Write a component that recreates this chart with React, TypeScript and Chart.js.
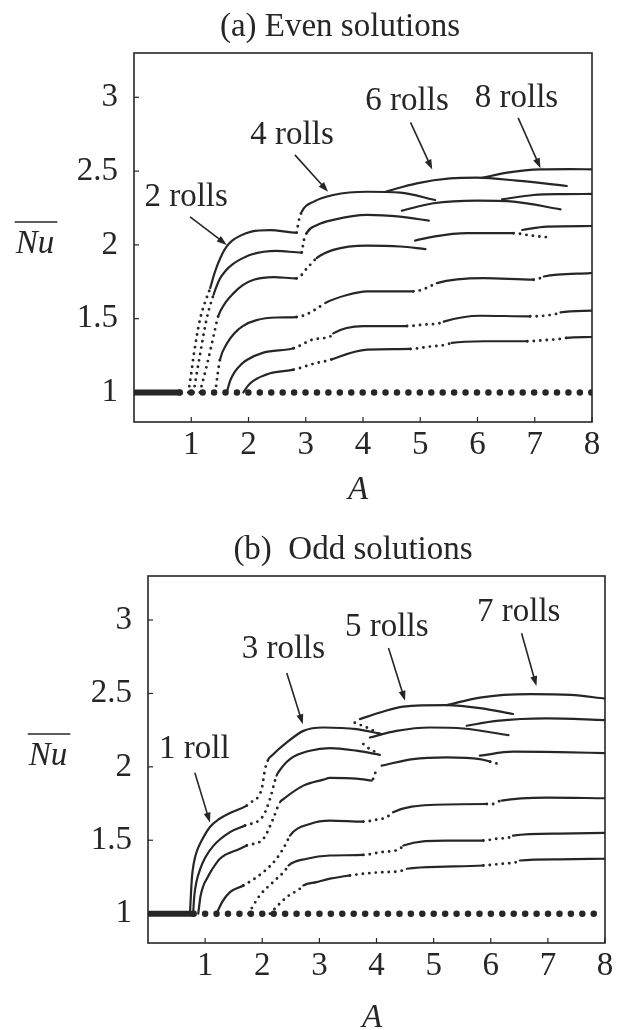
import React, { useEffect, useRef } from 'react';
import { Chart, registerables } from 'chart.js';
Chart.register(...registerables);

type Pt = [number, number, number]; // [A, Nu, stable(1)/unstable(0) for segment to next point]

const xTicks = [1, 2, 3, 4, 5, 6, 7, 8];
const yTicks = [1, 1.5, 2, 2.5, 3];

// ---------- (a) Even solutions ----------
const evenTrivialSolid: Pt[] = [[0, 1, 1], [0.82, 1, 1]];
const evenTrivialDots: Pt[] = [[0.8, 1, 0], [8, 1, 0]];
const evenC1: Pt[] = [[0.95, 1.0, 0], [1.0, 1.13, 0], [1.04, 1.245, 0], [1.15, 1.49, 0], [1.24, 1.61, 0], [1.33, 1.707, 1], [1.4, 1.8, 1], [1.47, 1.876, 1], [1.55, 1.945, 1], [1.62, 1.99, 1], [1.72, 2.03, 1], [1.85, 2.061, 1], [2.05, 2.09, 1], [2.38, 2.1, 1], [2.84, 2.083, 0], [2.87, 2.15, 0], [2.93, 2.225, 1], [3.15, 2.295, 1], [3.48, 2.338, 1], [4.07, 2.36, 1], [4.65, 2.354, 1], [5.26, 2.304, 1]];
const evenC1six: Pt[] = [[4.39, 2.36, 1], [4.94, 2.417, 1], [5.52, 2.45, 1], [5.99, 2.455, 1], [6.69, 2.435, 1], [7.56, 2.399, 1]];
const evenC1eight: Pt[] = [[6.08, 2.455, 1], [6.52, 2.489, 1], [7.1, 2.511, 1], [7.6, 2.513, 1], [8.0, 2.512, 1]];
const evenC2: Pt[] = [[1.04, 1.0, 0], [1.15, 1.25, 0], [1.27, 1.5, 0], [1.39, 1.662, 1], [1.5, 1.77, 1], [1.6, 1.825, 1], [1.72, 1.868, 1], [1.85, 1.9, 1], [2.05, 1.935, 1], [2.49, 1.959, 1], [2.93, 1.948, 0], [2.96, 2.02, 0], [3.02, 2.083, 1], [3.2, 2.135, 1], [3.48, 2.169, 1], [4.07, 2.203, 1], [4.65, 2.191, 1], [5.15, 2.164, 1]];
const evenC2six: Pt[] = [[4.68, 2.232, 1], [5.23, 2.282, 1], [5.99, 2.3, 1], [6.63, 2.293, 1], [7.45, 2.241, 1]];
const evenC2eight: Pt[] = [[6.43, 2.309, 1], [6.98, 2.338, 1], [7.5, 2.344, 1], [8.0, 2.345, 1]];
const evenC3: Pt[] = [[1.15, 1.0, 0], [1.27, 1.18, 0], [1.4, 1.4, 0], [1.47, 1.516, 1], [1.6, 1.61, 1], [1.74, 1.673, 1], [1.9, 1.727, 1], [2.09, 1.764, 1], [2.44, 1.782, 1], [2.84, 1.773, 0], [3.02, 1.84, 0], [3.19, 1.91, 1], [3.48, 1.966, 1], [4.07, 1.995, 1], [4.65, 1.989, 1], [5.09, 1.971, 1]];
const evenC3six: Pt[] = [[4.91, 2.029, 1], [5.23, 2.056, 1], [5.82, 2.079, 1], [6.63, 2.079, 0], [6.9, 2.065, 0], [7.21, 2.052, 0]];
const evenC3eight: Pt[] = [[6.78, 2.101, 1], [7.21, 2.124, 1], [8.0, 2.128, 1]];
const evenC4: Pt[] = [[1.42, 1.0, 0], [1.46, 1.12, 0], [1.5, 1.22, 1], [1.62, 1.33, 1], [1.75, 1.4, 1], [1.9, 1.45, 1], [2.14, 1.49, 1], [2.49, 1.508, 1], [2.84, 1.511, 0], [3.02, 1.53, 0], [3.25, 1.583, 0], [3.34, 1.606, 1], [3.72, 1.66, 1], [4.07, 1.685, 1], [4.88, 1.685, 0], [5.06, 1.7, 0], [5.23, 1.73, 0], [5.29, 1.741, 1], [6.11, 1.775, 1], [6.98, 1.764, 0], [7.1, 1.775, 0], [7.16, 1.786, 1], [7.97, 1.809, 1], [8.0, 1.81, 1]];
const evenC5: Pt[] = [[1.62, 1.0, 1], [1.68, 1.08, 1], [1.76, 1.14, 1], [1.87, 1.19, 1], [1.97, 1.22, 1], [2.26, 1.27, 1], [2.79, 1.3, 0], [3.14, 1.36, 0], [3.43, 1.38, 0], [3.48, 1.4, 1], [4.01, 1.45, 1], [4.77, 1.45, 0], [5.06, 1.46, 0], [5.35, 1.47, 0], [5.41, 1.48, 1], [6.05, 1.52, 1], [6.92, 1.516, 0], [7.39, 1.534, 0], [7.45, 1.543, 1], [8.0, 1.554, 1]];
const evenC6: Pt[] = [[1.91, 1.0, 1], [2.0, 1.05, 1], [2.09, 1.08, 1], [2.38, 1.13, 1], [2.79, 1.155, 0], [3.19, 1.2, 0], [3.43, 1.22, 0], [3.46, 1.225, 1], [4.07, 1.29, 1], [4.83, 1.295, 0], [5.15, 1.31, 0], [5.47, 1.325, 0], [5.55, 1.336, 1], [6.11, 1.347, 1], [6.87, 1.347, 0], [7.2, 1.355, 0], [7.45, 1.363, 0], [7.56, 1.37, 1], [8.0, 1.376, 1]];

const evenLabels = ['2 rolls', '4 rolls', '6 rolls', '8 rolls'];
const evenLabelPos: [number, number][] = [[0.91, 2.32], [2.76, 2.74], [4.77, 2.97], [6.68, 2.99]];
const evenArrowFrom: [number, number][] = [[0.98, 2.19], [2.81, 2.61], [4.83, 2.83], [6.71, 2.86]];
const evenArrowTo: [number, number][] = [[1.62, 2.0], [3.39, 2.36], [5.21, 2.51], [7.1, 2.52]];

// ---------- (b) Odd solutions ----------
const oddTrivialSolid: Pt[] = [[0, 1, 1], [0.79, 1, 1]];
const oddTrivialDots: Pt[] = [[0.8, 1, 0], [8, 1, 0]];
const oddC1: Pt[] = [[0.735, 1.0, 1], [0.75, 1.12, 1], [0.77, 1.25, 1], [0.8, 1.34, 1], [0.85, 1.42, 1], [0.95, 1.505, 1], [1.085, 1.59, 1], [1.25, 1.645, 1], [1.435, 1.685, 1], [1.73, 1.736, 0], [1.81, 1.759, 0], [1.99, 1.85, 0], [2.05, 1.985, 0], [2.11, 2.053, 1], [2.165, 2.076, 1], [2.43, 2.166, 1], [2.72, 2.245, 1], [3.07, 2.268, 1], [3.65, 2.257, 1], [4.09, 2.223, 1]];
const oddC1conn: Pt[] = [[3.62, 2.3, 0], [3.83, 2.268, 0], [4.06, 2.223, 0]];
const oddC1five: Pt[] = [[3.71, 2.325, 1], [4.06, 2.37, 1], [4.47, 2.41, 1], [5.23, 2.42, 1], [5.81, 2.4, 1], [6.39, 2.36, 1]];
const oddC1seven: Pt[] = [[5.23, 2.42, 1], [5.81, 2.472, 1], [6.69, 2.495, 1], [7.4, 2.49, 1], [8.0, 2.465, 1]];
const oddC2: Pt[] = [[0.79, 1.0, 1], [0.81, 1.12, 1], [0.85, 1.22, 1], [0.91, 1.3, 1], [1.0, 1.38, 1], [1.14, 1.46, 1], [1.435, 1.555, 1], [1.7, 1.6, 0], [2.02, 1.668, 0], [2.135, 1.78, 0], [2.25, 1.94, 1], [2.28, 1.962, 1], [2.485, 2.053, 1], [2.835, 2.11, 1], [3.185, 2.128, 1], [3.65, 2.11, 1], [4.06, 2.082, 1]];
const oddC2conn: Pt[] = [[3.77, 2.155, 0], [3.885, 2.12, 0], [4.0, 2.098, 0]];
const oddC2five: Pt[] = [[3.885, 2.2, 1], [4.35, 2.245, 1], [4.94, 2.268, 1], [5.52, 2.261, 1], [6.31, 2.216, 1]];
const oddC2seven: Pt[] = [[5.58, 2.28, 1], [6.1, 2.313, 1], [6.98, 2.33, 1], [8.0, 2.318, 1]];
const oddC3: Pt[] = [[0.88, 1.0, 1], [0.92, 1.12, 1], [0.97, 1.19, 1], [1.03, 1.238, 1], [1.12, 1.3, 1], [1.26, 1.374, 1], [1.61, 1.442, 1], [1.73, 1.464, 0], [2.02, 1.51, 0], [2.19, 1.645, 0], [2.31, 1.759, 1], [2.37, 1.78, 1], [2.72, 1.872, 1], [3.07, 1.913, 1], [3.185, 1.925, 1], [3.65, 1.92, 1], [3.915, 1.906, 1]];
const oddC3conn: Pt[] = [[3.94, 1.917, 0], [3.97, 1.95, 0], [4.0, 1.98, 0]];
const oddC3five: Pt[] = [[4.09, 2.008, 1], [4.64, 2.053, 1], [5.23, 2.064, 1], [5.81, 2.053, 1], [5.99, 2.035, 0], [6.13, 2.02, 0]];
const oddC3seven: Pt[] = [[5.81, 2.076, 1], [6.39, 2.103, 1], [7.2, 2.1, 1], [8.0, 2.094, 1]];
const oddC4: Pt[] = [[1.2, 1.0, 1], [1.3, 1.08, 1], [1.435, 1.147, 1], [1.67, 1.192, 0], [2.02, 1.283, 0], [2.25, 1.374, 0], [2.43, 1.487, 0], [2.485, 1.532, 1], [2.835, 1.611, 1], [3.185, 1.634, 1], [3.77, 1.627, 0], [4.0, 1.64, 0], [4.18, 1.657, 0], [4.29, 1.69, 1], [4.94, 1.74, 1], [5.93, 1.747, 0], [6.02, 1.745, 0], [6.1, 1.76, 0], [6.19, 1.77, 1], [6.98, 1.79, 1], [8.0, 1.786, 1]];
const oddC5: Pt[] = [[1.76, 1.0, 0], [1.96, 1.125, 0], [2.19, 1.215, 0], [2.4, 1.294, 0], [2.46, 1.328, 1], [2.78, 1.374, 1], [3.185, 1.396, 1], [3.77, 1.4, 0], [4.1, 1.42, 0], [4.41, 1.44, 0], [4.47, 1.464, 1], [5.23, 1.498, 1], [5.87, 1.498, 0], [6.1, 1.51, 0], [6.34, 1.521, 0], [6.39, 1.532, 1], [7.2, 1.545, 1], [8.0, 1.55, 1]];
const oddC6: Pt[] = [[2.135, 1.0, 0], [2.43, 1.113, 0], [2.66, 1.17, 0], [2.72, 1.192, 1], [2.95, 1.215, 1], [3.185, 1.238, 1], [3.535, 1.26, 0], [4.0, 1.28, 0], [4.47, 1.294, 0], [4.53, 1.306, 1], [5.2, 1.32, 1], [5.87, 1.328, 0], [6.2, 1.34, 0], [6.45, 1.351, 0], [6.51, 1.362, 1], [7.2, 1.37, 1], [8.0, 1.374, 1]];

const oddLabels = ['1 roll', '3 rolls', '5 rolls', '7 rolls'];
const oddLabelPos: [number, number][] = [[0.81, 2.12], [2.37, 2.8], [4.18, 2.95], [6.49, 3.05]];
const oddArrowFrom: [number, number][] = [[0.82, 1.96], [2.43, 2.64], [4.21, 2.81], [6.54, 2.91]];
const oddArrowTo: [number, number][] = [[1.085, 1.62], [2.71, 2.29], [4.5, 2.45], [6.8, 2.55]];

const FONT = '"Liberation Serif", "Times New Roman", serif';
const INK = '#262626';

interface PanelCfg {
  title: string;
  titleX: number;
  titleY: number;
  nuX: number;
  nuY: number;
  aX: number;
  aY: number;
  pad: { top: number; right: number; bottom: number; left: number };
  yWidth: number;
  trivialSolid: Pt[];
  trivialDots: Pt[];
  curves: Pt[][];
  labels: string[];
  labelPos: [number, number][];
  arrowFrom: [number, number][];
  arrowTo: [number, number][];
}

const evenPanel: PanelCfg = {
  title: '(a) Even solutions', titleX: 340, titleY: 27, nuX: 35, nuY: 244, aX: 358, aY: 490,
  pad: { top: 53, right: 27, bottom: 43, left: 0 }, yWidth: 134,
  trivialSolid: evenTrivialSolid, trivialDots: evenTrivialDots,
  curves: [evenC1, evenC1six, evenC1eight, evenC2, evenC2six, evenC2eight, evenC3, evenC3six, evenC3eight, evenC4, evenC5, evenC6],
  labels: evenLabels, labelPos: evenLabelPos, arrowFrom: evenArrowFrom, arrowTo: evenArrowTo,
};
const oddPanel: PanelCfg = {
  title: '(b)  Odd solutions', titleX: 353, titleY: 35, nuX: 48, nuY: 241, aX: 372, aY: 503,
  pad: { top: 61, right: 14, bottom: 37, left: 0 }, yWidth: 148,
  trivialSolid: oddTrivialSolid, trivialDots: oddTrivialDots,
  curves: [oddC1, oddC1conn, oddC1five, oddC1seven, oddC2, oddC2conn, oddC2five, oddC2seven, oddC3, oddC3conn, oddC3five, oddC3seven, oddC4, oddC5, oddC6],
  labels: oddLabels, labelPos: oddLabelPos, arrowFrom: oddArrowFrom, arrowTo: oddArrowTo,
};

const DOT = [0, 6.5];

function makeChart(canvas: HTMLCanvasElement, p: PanelCfg) {
  const toXY = (arr: Pt[]) => arr.map((d) => ({ x: d[0], y: d[1] }));
  const datasets: any[] = [];
  datasets.push({ data: toXY(p.trivialSolid), borderWidth: 6, borderColor: INK, borderCapStyle: 'butt' });
  datasets.push({ data: toXY(p.trivialDots), borderWidth: 6.5, borderColor: INK, borderCapStyle: 'round', borderDash: [0, 11.43] });
  p.curves.forEach((c) => {
    datasets.push({
      data: toXY(c),
      borderWidth: 2.2,
      borderColor: INK,
      borderCapStyle: 'round',
      borderJoinStyle: 'round',
      cubicInterpolationMode: 'monotone',
      segment: {
        borderDash: (ctx: any) => (c[ctx.p0DataIndex][2] === 0 ? DOT : undefined),
        borderWidth: (ctx: any) => (c[ctx.p0DataIndex][2] === 0 ? 2.9 : undefined),
      },
    });
  });

  const deco = {
    id: 'deco',
    afterDraw(chart: any) {
      const ctx = chart.ctx as CanvasRenderingContext2D;
      const a = chart.chartArea;
      const xs = chart.scales.x;
      const ys = chart.scales.y;
      ctx.save();
      ctx.strokeStyle = INK;
      ctx.fillStyle = INK;
      // frame
      ctx.lineWidth = 1.6;
      ctx.strokeRect(a.left, a.top, a.right - a.left, a.bottom - a.top);
      // inward ticks
      ctx.lineWidth = 1.2;
      xTicks.forEach((v) => {
        const px = xs.getPixelForValue(v);
        ctx.beginPath();
        ctx.moveTo(px, a.bottom);
        ctx.lineTo(px, a.bottom - 5);
        ctx.stroke();
      });
      yTicks.forEach((v) => {
        const py = ys.getPixelForValue(v);
        ctx.beginPath();
        ctx.moveTo(a.left, py);
        ctx.lineTo(a.left + 5, py);
        ctx.stroke();
      });
      // title
      ctx.font = `33px ${FONT}`;
      ctx.textAlign = 'center';
      ctx.textBaseline = 'middle';
      ctx.fillText(p.title, p.titleX, p.titleY);
      // axis labels
      ctx.font = `italic 33px ${FONT}`;
      ctx.fillText('A', p.aX, p.aY);
      ctx.fillText('Nu', p.nuX, p.nuY);
      const w = ctx.measureText('Nu').width;
      ctx.lineWidth = 1.5;
      ctx.beginPath();
      ctx.moveTo(p.nuX - w / 2 - 1, p.nuY - 22);
      ctx.lineTo(p.nuX + w / 2 + 3, p.nuY - 22);
      ctx.stroke();
      // annotations
      ctx.font = `33px ${FONT}`;
      p.labels.forEach((t, i) => {
        const [lx, ly] = p.labelPos[i];
        ctx.fillText(t, xs.getPixelForValue(lx), ys.getPixelForValue(ly));
        const x0 = xs.getPixelForValue(p.arrowFrom[i][0]);
        const y0 = ys.getPixelForValue(p.arrowFrom[i][1]);
        const x1 = xs.getPixelForValue(p.arrowTo[i][0]);
        const y1 = ys.getPixelForValue(p.arrowTo[i][1]);
        const ang = Math.atan2(y1 - y0, x1 - x0);
        const hl = 10, hw = 3.5;
        ctx.lineWidth = 1.6;
        ctx.beginPath();
        ctx.moveTo(x0, y0);
        ctx.lineTo(x1 - Math.cos(ang) * hl * 0.6, y1 - Math.sin(ang) * hl * 0.6);
        ctx.stroke();
        ctx.beginPath();
        ctx.moveTo(x1, y1);
        ctx.lineTo(x1 - Math.cos(ang) * hl - Math.sin(ang) * hw, y1 - Math.sin(ang) * hl + Math.cos(ang) * hw);
        ctx.lineTo(x1 - Math.cos(ang) * hl + Math.sin(ang) * hw, y1 - Math.sin(ang) * hl - Math.cos(ang) * hw);
        ctx.closePath();
        ctx.fill();
      });
      ctx.restore();
    },
  };

  return new Chart(canvas, {
    type: 'line',
    data: { datasets },
    options: {
      animation: false,
      responsive: true,
      maintainAspectRatio: false,
      layout: { padding: p.pad },
      elements: { point: { radius: 0, hoverRadius: 0 }, line: { tension: 0 } },
      plugins: { legend: { display: false }, tooltip: { enabled: false }, title: { display: false } },
      events: [],
      scales: {
        x: {
          type: 'linear',
          min: 0,
          max: 8,
          afterBuildTicks: (s: any) => { s.ticks = xTicks.map((v) => ({ value: v })); },
          afterFit: (s: any) => { s.height = 50; },
          grid: { display: false, drawTicks: false },
          border: { display: false },
          ticks: { font: { family: FONT, size: 33 }, color: INK, padding: 4, maxRotation: 0, autoSkip: false, callback: (v: any) => String(v) },
        },
        y: {
          type: 'linear',
          min: 0.8,
          max: 3.3,
          afterBuildTicks: (s: any) => { s.ticks = yTicks.map((v) => ({ value: v })); },
          afterFit: (s: any) => { s.width = p.yWidth; },
          grid: { display: false, drawTicks: false },
          border: { display: false },
          ticks: { font: { family: FONT, size: 33 }, color: INK, padding: 16, autoSkip: false, callback: (v: any) => String(v) },
        },
      },
    } as any,
    plugins: [deco],
  });
}

function Panel({ cfg }: { cfg: PanelCfg }) {
  const ref = useRef<HTMLCanvasElement>(null);
  useEffect(() => {
    if (!ref.current) return;
    const ch = makeChart(ref.current, cfg);
    return () => ch.destroy();
  }, [cfg]);
  return (
    <div style={{ position: 'relative', width: 619, height: 515 }}>
      <canvas ref={ref} />
    </div>
  );
}

export default function App() {
  return (
    <div style={{ position: 'absolute', left: 0, top: 0, width: 619, height: 1030, background: '#fff' }}>
      <Panel cfg={evenPanel} />
      <Panel cfg={oddPanel} />
    </div>
  );
}
